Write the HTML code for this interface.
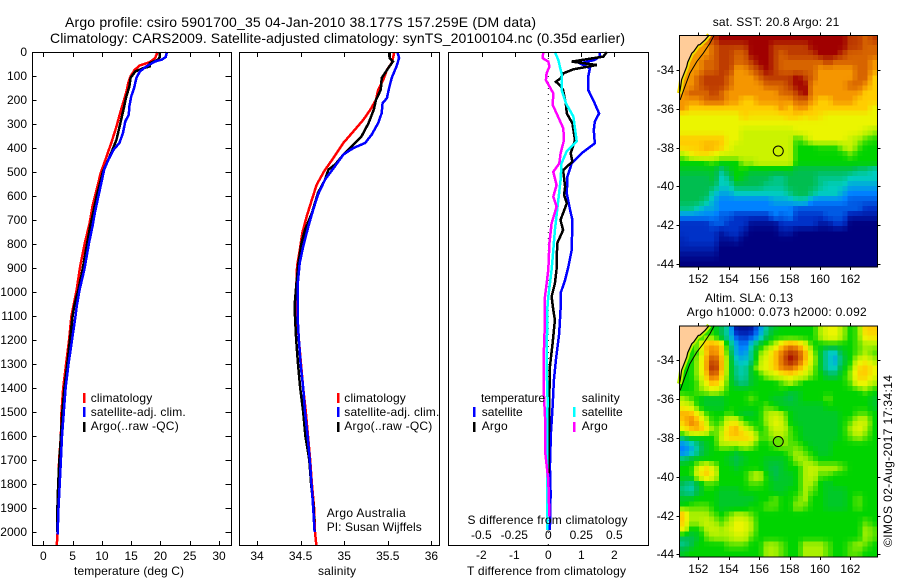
<!DOCTYPE html>
<html lang="en">
<head>
<meta charset="utf-8">
<title>Argo profile csiro 5901700_35</title>
<style>
html,body{margin:0;padding:0;background:#fff;}
svg{display:block;}
text{font-family:"Liberation Sans",sans-serif;font-size:12px;fill:#000;}
.t14{font-size:14px;}
.t13{font-size:13px;}
</style>
</head>
<body>
<svg id="chart" xmlns="http://www.w3.org/2000/svg" width="900" height="580" viewBox="0 0 900 580">
  <rect x="0" y="0" width="900" height="580" fill="#fff"/>
  <g id="maps"></g>
  <g id="profiles"></g>
  <g id="axes"></g>

  <text class="t14" x="65" y="27" textLength="471">Argo profile: csiro 5901700_35 04-Jan-2010 38.177S 157.259E (DM data)</text>
  <text class="t14" x="50" y="43" textLength="575">Climatology: CARS2009. Satellite-adjusted climatology: synTS_20100104.nc (0.35d earlier)</text>

  <text x="74" y="575" textLength="110">temperature (deg C)</text>
  <text x="318" y="575" textLength="38">salinity</text>
  <text x="467" y="575" textLength="159">T difference from climatology</text>
  <text x="467.5" y="524" textLength="160">S difference from climatology</text>

  <g>
    <rect x="83" y="393" width="2.5" height="10" fill="#f00"/>
    <rect x="83" y="407" width="2.5" height="10" fill="#00f"/>
    <rect x="83" y="422" width="2.5" height="10" fill="#000"/>
    <text x="90.7" y="402" textLength="61.5">climatology</text>
    <text x="90.7" y="416" textLength="95">satellite-adj. clim.</text>
    <text x="90.7" y="430" textLength="88">Argo(..raw -QC)</text>
  </g>
  <g>
    <rect x="337" y="393" width="2.5" height="10" fill="#f00"/>
    <rect x="337" y="407" width="2.5" height="10" fill="#00f"/>
    <rect x="337" y="422" width="2.5" height="10" fill="#000"/>
    <text x="344.3" y="402" textLength="61.5">climatology</text>
    <text x="344.3" y="416" textLength="95">satellite-adj. clim.</text>
    <text x="344.3" y="430" textLength="88">Argo(..raw -QC)</text>
  </g>
  <text x="326.7" y="517" textLength="79">Argo Australia</text>
  <text x="326.7" y="531" textLength="95">PI: Susan Wijffels</text>

  <g>
    <text x="481" y="402" textLength="64">temperature</text>
    <rect x="473" y="407" width="2.5" height="10" fill="#00f"/>
    <text x="481.7" y="416" textLength="41">satellite</text>
    <rect x="473" y="422" width="2.5" height="10" fill="#000"/>
    <text x="481.7" y="430" textLength="26">Argo</text>
    <text x="581.7" y="402" textLength="38">salinity</text>
    <rect x="573" y="407" width="2.5" height="10" fill="#0ff"/>
    <text x="581.7" y="416" textLength="41">satellite</text>
    <rect x="573" y="422" width="2.5" height="10" fill="#f0f"/>
    <text x="581.7" y="430" textLength="26">Argo</text>
  </g>

  <text x="712.7" y="26" textLength="126.6">sat. SST: 20.8  Argo: 21</text>
  <text x="705" y="302" textLength="88">Altim. SLA: 0.13</text>
  <text x="686.7" y="316" textLength="180">Argo h1000: 0.073 h2000: 0.092</text>
  <text transform="translate(892,547) rotate(-90)" x="0" y="0" textLength="172">©IMOS 02-Aug-2017 17:34:14</text>
</svg>
<script>
// ---------- depth axis ticks ----------
const depthTicks = [0,100,200,300,400,500,600,700,800,900,1000,1100,1200,1300,1400,1500,1600,1700,1800,1900,2000];
const tempTicks = [0,5,10,15,20,25,30];
const salTicks = [34,34.5,35,35.5,36];
const tDiffTicks = [-2,-1,0,1,2];
const sDiffTicks = [-0.5,-0.25,0,0.25,0.5];
const lonTicks = [152,154,156,158,160,162];
const latTicks = [-34,-36,-38,-40,-42,-44];

// ---------- temperature profiles ----------
const tempClimDepth = [0,25,42,56,74,101,129,164,199,247,310,372,435,504,574,643,713,795,892,990,1100,1200,1300,1400,1500,1600,1700,1800,1900,2000,2054];
const tempClimValues = [19.5,19.1,18.2,16.5,15.6,14.9,14.5,14.2,13.8,13.2,12.5,11.7,10.8,9.8,9.1,8.4,7.9,7.1,6.3,5.7,4.8,4.4,3.9,3.4,3.1,3.0,2.7,2.6,2.5,2.45,2.3];
const tempArgoDepth = [0,21,32,46,60,67,81,108,143,192,240,303,365,414,449,497,546,601,671,726,810,907,990,1050,1100,1200,1300,1400,1500,1600,1700,1800,1900,2000];
const tempArgoValues = [19.9,19.9,19.6,18.2,18.2,17.1,15.7,14.9,14.7,14.1,13.7,13.1,12.5,11.7,11.1,10.2,9.7,9.1,8.5,8.0,7.4,6.7,6.0,5.35,5.0,4.55,4.1,3.6,3.25,3.0,2.75,2.55,2.4,2.4];
const tempSatDepth = [0,21,32,39,60,81,108,150,185,226,261,289,337,379,407,449,490,546,601,671,726,796,907,990,1060,1100,1200,1300,1400,1500,1600,1700,1800,1900,2010];
const tempSatValues = [21.1,20.9,20.2,19.1,17.6,16.5,15.9,15.5,15.0,14.7,14.6,14.0,13.6,13.0,12.0,11.1,10.4,9.9,9.4,8.8,8.4,7.8,7.0,6.2,5.7,5.5,4.9,4.3,3.8,3.5,3.2,3.0,2.8,2.6,2.45];

// ---------- salinity profiles ----------
const salClimDepth = [0,25,46,74,115,157,199,240,282,331,379,442,497,553,615,685,754,838,892,990,1100,1200,1300,1400,1500,1600,1700,1800,1900,2000,2054];
const salClimValues = [35.575,35.56,35.545,35.49,35.45,35.39,35.365,35.30,35.22,35.105,34.99,34.875,34.77,34.685,34.63,34.57,34.52,34.485,34.46,34.45,34.46,34.48,34.505,34.53,34.56,34.585,34.61,34.63,34.655,34.665,34.68];
const salArgoDepth = [0,25,39,67,108,157,199,240,296,351,393,428,469,490,532,587,671,740,796,879,976,1060,1200,1300,1400,1500,1600,1700,1800,1900,2000];
const salArgoValues = [35.52,35.52,35.56,35.505,35.43,35.42,35.365,35.34,35.28,35.20,35.085,34.99,34.895,34.82,34.78,34.70,34.63,34.55,34.51,34.475,34.45,34.43,34.45,34.47,34.495,34.53,34.555,34.6,34.62,34.65,34.66];
const salSatDepth = [0,25,60,108,157,192,213,254,296,344,379,400,428,476,532,594,657,726,810,879,976,1100,1200,1300,1400,1500,1600,1700,1800,1900,2000];
const salSatValues = [35.61,35.63,35.60,35.545,35.51,35.49,35.44,35.43,35.39,35.315,35.24,35.105,34.99,34.895,34.78,34.70,34.645,34.59,34.53,34.49,34.465,34.465,34.48,34.50,34.53,34.55,34.58,34.605,34.625,34.645,34.66];

// ---------- differences from climatology ----------
const tDiffSatDepth = [0,19,33,47,68,103,158,200,256,290,325,381,422,464,519,589,658,700,825,894,950,1006,1075,1172,1283,1367,1478,1589,1728,1839,1992];
const tDiffSatValues = [1.57,1.55,1.41,0.96,1.26,1.21,1.21,1.36,1.54,1.41,1.38,1.41,1.01,0.71,0.58,0.56,0.66,0.73,0.71,0.61,0.51,0.37,0.37,0.33,0.23,0.17,0.13,0.08,0.05,0.07,0.05];
const tDiffArgoDepth = [0,19,40,54,72,89,110,124,138,158,214,256,297,367,422,457,492,561,596,631,700,742,797,908,964,1019,1075,1117,1214,1311,1450,1589,1756];
const tDiffArgoValues = [1.77,1.67,0.71,1.47,0.76,0.45,0.37,0.23,0.35,0.45,0.53,0.56,0.73,0.81,0.68,0.73,0.45,0.51,0.48,0.56,0.37,0.45,0.27,0.25,0.2,0.1,0.15,0.2,0.13,0.05,0.03,0.02,0.01];
const sDiffSatDepth = [0,33,89,158,214,269,373,415,464,533,617,742,825,908,1019,1075,1117,1311,1450,1589,1992];
const sDiffSatValues = [0.05,0.076,0.10,0.10,0.134,0.19,0.215,0.139,0.10,0.093,0.076,0.05,0.038,0.025,0,-0.008,-0.008,-0.013,-0.005,-0.008,-0.008];
const sDiffArgoDepth = [0,26,40,61,89,117,172,221,256,318,367,422,464,499,554,603,644,714,797,908,1019,1075,1117,1242,1408,1519,1672,1783,1936];
const sDiffArgoValues = [-0.038,-0.043,0,0.008,-0.013,-0.018,0.038,0.033,0.063,0.114,0.119,0.093,0.083,0.038,0.063,0.038,0.063,0.025,0.008,0,-0.025,-0.028,-0.025,-0.033,-0.035,-0.025,-0.023,0,0.008];

// ---------- map data (colour level per grid cell, north to south) ----------
const sstGrid = [
[10,10,10,10,11,12,12,12,12,12,12,12,12,12,12,12,12,12,12,12,12,12,11,11,10,11],
[9,9,9,9,10,11,11,11,11,12,12,12,11,11,11,11,11,12,12,12,12,12,11,11,10,10],
[9,9,9,9,10,11,11,10,10,12,12,12,11,10,11,11,11,11,12,12,12,11,10,10,10,10],
[9,9,9,10,10,11,11,10,10,11,12,12,11,10,10,10,10,10,10,11,10,10,10,10,10,9],
[9,9,9,10,10,11,11,9,9,10,11,12,11,10,10,10,10,10,9,9,9,9,9,10,10,9],
[9,9,10,11,11,11,10,9,9,9,10,11,11,11,11,12,11,10,9,9,9,9,9,10,10,8],
[9,9,10,11,11,11,10,9,9,9,9,10,10,10,11,12,12,9,9,9,9,9,10,10,9,8],
[9,10,10,10,11,10,9,9,9,9,9,9,9,10,10,11,12,9,9,9,9,9,9,9,8,8],
[9,9,9,10,10,10,9,9,8,8,9,9,9,9,9,10,10,9,8,8,9,9,9,8,8,8],
[9,8,8,8,8,8,8,8,8,8,8,8,8,9,8,9,9,8,8,8,8,8,8,8,8,7],
[7,7,7,7,7,7,7,7,8,7.5,7.5,7.5,7.5,7.5,8,8,7.5,8,7.5,7,7,7,7,7,7,7],
[7,7,7,7,7,7,7,7,7,7,7,7,7,7,7,7,7,7,7,7,7,7,7,7,7,7],
[7,7,7,7,7,7,7,7,6.5,6.5,6.5,6.5,6.5,6.5,6.5,7,7,7,7,7,7,7,7,7,6.5,6],
[8,8,8,8,8,8,7,7,6.5,6.5,6.5,6.5,6.5,6.5,6.5,5.2,6,7,7,7,7,7,6.5,6,5.5,5.2],
[8,8,8,8.5,8.5,8,7,6.5,6.5,6.5,6.5,6.5,6.5,6.5,6.5,5,5,5,5.2,5.2,5.2,6,6.5,5.5,5,5],
[6,7,7.5,7.5,7,6.5,6.5,6.5,6.5,6.5,6.5,6.5,6.5,6.5,6.5,5,5,5,5,5,5,5,5.5,5,5,5],
[5,5,5,5.2,5.5,5,5,5,6,6,6.5,6.5,6.5,6.5,6.5,5,5,5,5,5,5,5,5,5,5,5],
[4.5,4.5,4.5,4.5,4.5,3.5,4.5,5,5,4.5,4.5,4.5,4.5,4.5,4.5,4,4,4,4,4,4,4,4,3.5,3.5,3],
[4,4,4,4,4.5,3,3.5,5,4.5,4,4,4,3.5,3.5,4,4,4,4,3.5,3.5,3.5,3.5,3,3,3,3],
[4,4,4,4,4,3,3,4,4,4,4,3.5,3.5,3.5,4,4,4,4,3.5,3,3,3,2.5,2.5,2.5,2.5],
[4,4,4,4,3,2.5,2.5,3,3,3,3,3,3,3,3.5,4,4,3.5,3,3,3,2.5,2,2,2,2],
[4,4,4,3.5,2.5,2,2,2,2,2,2,2,2.5,2.5,2.5,3,3,2,2,2,2,2,1.5,1.5,1.5,1.5],
[3.5,3.5,3,2.5,2.5,2,2,2,2,2,2,2,2,2,2,1.5,1.5,1.5,1.5,1.5,1.5,1.5,1.5,1.5,1,1],
[2,2,2,2,2,1.5,1.5,1,1,1,1,1,2,1.5,2,1,1,1,1,1.5,1.5,1.5,0.5,0.5,0.5,0.5],
[1,1,1,1,1.5,1.5,1,1,1,0.3,0.3,0.3,0.3,1,1,1,1,1,0.5,0.5,1,1,0,0,0,0],
[1,1,1,1,1,0.5,1,1,0.5,0,0,0,0,0.5,0.5,0,0,0,0,0,0,0,0,0,0,0],
[0.8,1,1,1,1,0.3,0.3,0.5,0,0,0,0,0,0,0,0,0,0,0,0,0,0,0,0,0,0],
[0.7,0.7,0.7,0.7,0.7,0,0,0,0,0,0,0,0,0,0,0,0,0,0,0,0,0,0,0,0,0],
[0.3,0.3,0.3,0.3,0.3,0,0,0,0,0,0,0,0,0,0,0,0,0,0,0,0,0,0,0,0,0],
[0,0,0,0,0,0,0,0,0,0,0,0,0,0,0,0,0,0,0,0,0,0,0,0,0,0]
];
const slaGrid = [
[5,5,5,5,5,4,3,0.5,0.3,0.5,2,3.5,4.5,5,5,5,5,5,6,7,7,6,5,5.5,8,8],
[5,5,5,5.5,5.5,4,3,1.5,1,1.5,2.5,4,5,5,5,5,5,5,6,7,7,6,5,5.5,7.5,7.5],
[5,5,6,8.5,9,8,4,2.5,1.5,3,4.5,5.5,6,8,9,8.5,7,5,5,5,5,5,5,5.5,6,6],
[5,5,5.5,8,9.5,8,4.5,2.5,2,3.5,5.5,6.5,8,9.5,11,10.5,8.5,6,4.5,3,3,4.5,5,5.5,6,5.5],
[5,5,6,8.5,11,8.5,5,3,2.5,3.5,6,7,8,10,12,11,8.5,6.5,4.5,3,2.5,4,5,6.5,7,6],
[5,5,6,8.5,12,8.5,5,3.5,3,4.5,6.5,7,8,9.5,10,9,7.5,6,4.5,3,3,4.5,5.5,7.5,8,7],
[5,5,6,8,10.5,8,5,3.5,3,4.5,5,6,6.5,7,7.5,7,6.5,5.5,5,4,4,5,6,8,8,7],
[5,5,5.5,7,8.5,7,5,4,3.5,4.5,5,5,5,5.5,6,5.5,5,5,5,5,5,5,5.5,7,7,6],
[5,5,5.5,6,6.5,6,5,5,5,5,5,5,5,5,4.5,4.5,5,5,5,5,5,5,5,5,5.5,5],
[6,5.5,5,4.5,4.5,4.5,5,5,5,5.5,5,5,4.5,4.5,4,4.5,5,5,5,5.5,5,5,5,5,5,4.5],
[7,6.5,5,4.5,4.5,4.5,5,5,5,5,5,5.5,5,4.5,4.5,4.5,4.5,4.5,4.5,5,5,5,5,5,5,4.5],
[8.5,8.5,7,5.5,5,5,5.5,5,4.5,4.5,5,6,6.5,6,5,4.5,4.5,4.5,4.5,4.5,4.5,5,5,5.5,5.5,5],
[8,9.5,8.5,6.5,5,5.5,7,7,5.5,5,5,6,7,6.5,5,4.5,4.5,4.5,4.5,4.5,4.5,5,5.5,6.5,6.5,5],
[7,8,8.5,7.5,5.5,6,8,8.5,7,6,5,5.5,6.5,6.5,5.5,5,4.5,4.5,4.5,4.5,4.5,5,6,7,6,5],
[4,5,5,5,5,6.5,8,8,8,7.5,5.5,5.5,6,6,5.5,5,4.5,4.5,4.5,4.5,4.5,5,5.5,6,5.5,5],
[2,2.5,3.5,4.5,5,6,6,6,6.5,6,5,5,5.5,6,5.5,5.5,5,4.5,4.5,4.5,5,5,5,5,5,5],
[2,2.5,3.5,4.5,5,5,5,4.5,5,5,5,5,5,5,5.5,6,5.5,5,4.5,4.5,5,5,5,5,5,5],
[4,4.5,5,5,5,5,4.5,4,4.5,5,5,4.5,4.5,4.5,5,6,6,5.5,5,5,5,5,5,5,5,5],
[5,5,6.5,7.5,6.5,5,5,4.5,5,5,5,4.5,4,4.5,5,5,6,6.5,6,6,6,5.5,5,5,5,5],
[5,5,7,8,7,5,5,5,5,6,6.5,5,4,4.5,4.5,5,6,6.5,5.5,5.5,5,5,5,5,5,5],
[4,3.5,4.5,5.5,5.5,5,5,5,5,5.5,5.5,5,4.5,4.5,4.5,5,6,6,5,4.5,5,5,5,5,5,5],
[3.5,3,4,5,5,4.5,4.5,4.5,5,5,5,5,4.5,4.5,5,5,6,5.5,5,4.5,4.5,4.5,5,5,5,5],
[4.5,4.5,5,5,5,4.5,4.5,4.5,4.5,4.5,5,5,5.5,5,5,5.5,6,5,5,4.5,4.5,4.5,5,5.5,5,5],
[5,5.5,5.5,5.5,5,4.5,4.5,4.5,4.5,5,5,5.5,5.5,5,5,6,5.5,5,5,4.5,4.5,4.5,5,5.5,5,5],
[8,6,6,6,5.5,5,5.5,6,6,5.5,5,5,5,5,5,5,5,5,5,5,5,5,5,5,5,5],
[8,6,6,6.5,6,5.5,6,7,7,6,5,5,5,5,5,5,5,5,5,5,5,5,5,5,5.5,5],
[7,5,5,6,6.5,6,6.5,7,7,6,5,5,5,5,5,5,5,5,5,5,5,5,5,5,6,5.5],
[4,4,4.5,5.5,6,6,6,6.5,6.5,5.5,5,5,5,5,5,5,5,5,5,5,5,5,5,5,6,5.5],
[3.5,4,5,5,5,5,5.5,5.5,5.5,5,5,6,6,5.5,5,5,6,6,6,5.5,5,5,5.5,6,5.5,5],
[4.5,5,5,5,5,5,5,5,5,5,5,6,6,5.5,5,5,6,6,6,5.5,5,5,5.5,5.5,5,5]
];
const coastLon = [150.75,150.8,150.85,150.9,151.05,151.24,151.3,151.57,151.7,152.0,152.1,152.44,152.72];
const coastLat = [-35.2,-35.03,-34.8,-34.5,-34.2,-33.83,-33.6,-33.14,-33.05,-32.71,-32.7,-32.45,-32.2];
const isobathLon = [153.05,152.77,152.33,151.9,151.45,151.12,150.8];
const isobathLat = [-32.2,-32.62,-33.14,-33.57,-34.17,-34.86,-35.55];
const floatLon = [157.26];
const floatLat = [-38.18];
const floatSla = [5.6];

// ---------- scales ----------
const NS = 'http://www.w3.org/2000/svg';
function yDepth(d){ return 52 + d * 0.24; }
function xTemp(v){ return 43.3 + v * 5.857; }
function xSal(v){ return 257 + (v - 34) * 87.2; }
function xTDiff(v){ return 548.3 + v * 33; }
function xSDiff(v){ return 548.3 + v * 132; }
const LON0 = 150.75, LON1 = 163.78, LAT0 = -32.2, LAT1 = -44.14;
function xLon(v){ return 698.3 + (v - 152) * 15.2; }
function yLat(v, top){ return top + (v - LAT0) * (-19.4); }

const COLOR_STOPS = [[0,0,128],[0,50,200],[0,130,255],[0,205,190],[0,190,80],[0,212,0],[170,240,0],[235,245,0],[255,205,0],[245,150,0],[215,100,0],[190,60,0],[160,0,0]];
function levelColor(v){
  const c = Math.max(0, Math.min(12, v));
  const i = Math.min(11, Math.floor(c));
  const f = c - i;
  const a = COLOR_STOPS[i], b = COLOR_STOPS[i + 1];
  return 'rgb(' + [0,1,2].map(function(k){ return Math.round(a[k] + (b[k] - a[k]) * f); }).join(',') + ')';
}
function svgEl(tag, parent){
  const el = document.createElementNS(NS, tag);
  parent.appendChild(el);
  return el;
}

// ---------- profile lines ----------
const profiles = document.getElementById('profiles');
function drawProfile(depths, values, xScale, color, name){
  const pts = depths.map(function(d, i){ return xScale(values[i]).toFixed(1) + ',' + yDepth(d).toFixed(1); }).join(' ');
  const el = svgEl('polyline', profiles);
  
  
  el.setAttribute('points', pts);
  el.setAttribute('fill', 'none');
  el.setAttribute('stroke', color);
  el.setAttribute('stroke-width', '2.5');
  el.setAttribute('shape-rendering', 'crispEdges');
}
const zeroLine = svgEl('line', profiles);


zeroLine.setAttribute('x1', xTDiff(0));
zeroLine.setAttribute('x2', xTDiff(0));
zeroLine.setAttribute('y1', yDepth(0));
zeroLine.setAttribute('y2', 545);
zeroLine.setAttribute('stroke', '#000');
zeroLine.setAttribute('stroke-width', '1');
zeroLine.setAttribute('stroke-dasharray', '1 5');

drawProfile(tempClimDepth, tempClimValues, xTemp, '#f00', 'temperature-climatology-line');
drawProfile(tempArgoDepth, tempArgoValues, xTemp, '#000', 'temperature-argo-line');
drawProfile(tempSatDepth, tempSatValues, xTemp, '#00f', 'temperature-satellite-line');
drawProfile(salClimDepth, salClimValues, xSal, '#f00', 'salinity-climatology-line');
drawProfile(salArgoDepth, salArgoValues, xSal, '#000', 'salinity-argo-line');
drawProfile(salSatDepth, salSatValues, xSal, '#00f', 'salinity-satellite-line');
drawProfile(tDiffSatDepth, tDiffSatValues, xTDiff, '#00f', 'temperature-satellite-difference-line');
drawProfile(tDiffArgoDepth, tDiffArgoValues, xTDiff, '#000', 'temperature-argo-difference-line');
drawProfile(sDiffSatDepth, sDiffSatValues, xSDiff, '#0ff', 'salinity-satellite-difference-line');
drawProfile(sDiffArgoDepth, sDiffArgoValues, xSDiff, '#f0f', 'salinity-argo-difference-line');

// ---------- axes ----------
const axes = document.getElementById('axes');
function drawLine(x1, y1, x2, y2, name){
  const el = svgEl('line', axes);
  
  
  el.setAttribute('x1', x1);
  el.setAttribute('y1', y1);
  el.setAttribute('x2', x2);
  el.setAttribute('y2', y2);
  el.setAttribute('stroke', '#000');
  el.setAttribute('stroke-width', '1');
  el.setAttribute('shape-rendering', 'crispEdges');
}
function drawLabel(x, y, str, anchor, name){
  const el = svgEl('text', axes);
  
  
  el.setAttribute('x', x);
  el.setAttribute('y', y);
  el.setAttribute('text-anchor', anchor);
  el.textContent = str;
}
function drawFrame(l, t, r, b, name){
  const el = svgEl('rect', axes);
  
  
  el.setAttribute('x', l);
  el.setAttribute('y', t);
  el.setAttribute('width', r - l);
  el.setAttribute('height', b - t);
  el.setAttribute('fill', 'none');
  el.setAttribute('stroke', '#000');
  el.setAttribute('stroke-width', '1');
  el.setAttribute('shape-rendering', 'crispEdges');
}

drawFrame(32.5, 52.5, 231.5, 545.5, 'temperature-panel-frame');
drawFrame(239.5, 52.5, 439.5, 545.5, 'salinity-panel-frame');
drawFrame(448.5, 52.5, 648.5, 545.5, 'difference-panel-frame');

depthTicks.forEach(function(d){
  const y = Math.round(yDepth(d)) + 0.5;
  if (d > 0) {
    drawLine(32.5, y, 36.5, y, 'depth-tick-left');
    drawLine(225.5, y, 231.5, y, 'depth-tick-right');
  }
  drawLabel(27, Math.round(yDepth(d)) + 4, String(d), 'end', 'depth-tick-label');
});
tempTicks.forEach(function(v){
  const x = Math.round(xTemp(v)) + 0.5;
  drawLine(x, 52.5, x, 57, 'temperature-tick-top');
  drawLine(x, 541, x, 545.5, 'temperature-tick-bottom');
  drawLabel(xTemp(v), 560, String(v), 'middle', 'temperature-tick-label');
});
salTicks.forEach(function(v){
  const x = Math.round(xSal(v)) + 0.5;
  drawLine(x, 52.5, x, 57, 'salinity-tick-top');
  drawLine(x, 541, x, 545.5, 'salinity-tick-bottom');
  drawLabel(xSal(v), 560, String(v), 'middle', 'salinity-tick-label');
});
tDiffTicks.forEach(function(v){
  const x = Math.round(xTDiff(v)) + 0.5;
  drawLine(x, 52.5, x, 57, 't-difference-tick-top');
  drawLabel(xTDiff(v) - (v < 0 ? 1 : 0), 559, String(v), 'middle', 't-difference-tick-label');
});
sDiffTicks.forEach(function(v){
  drawLabel(xSDiff(v) - (v < 0 ? 1 : 0), 539, String(v), 'middle', 's-difference-tick-label');
});

// ---------- maps ----------
const maps = document.getElementById('maps');
const DISPLAY_COLS = 40;
const DISPLAY_ROWS = 46;
// Reads the value grid at a fractional position, the way an image is resampled for display.
function sampleGrid(grid, rowPos, colPos){
  const r = Math.max(0, Math.min(grid.length - 1, rowPos));
  const c = Math.max(0, Math.min(grid[0].length - 1, colPos));
  const r0 = Math.floor(r), c0 = Math.floor(c);
  const r1 = Math.min(grid.length - 1, r0 + 1), c1 = Math.min(grid[0].length - 1, c0 + 1);
  const fr = r - r0, fc = c - c0;
  const upper = grid[r0][c0] * (1 - fc) + grid[r0][c1] * fc;
  const lower = grid[r1][c0] * (1 - fc) + grid[r1][c1] * fc;
  return upper * (1 - fr) + lower * fr;
}
function drawMap(grid, top, bottom, name){
  const rows = grid.length;
  const cols = grid[0].length;
  const dx = (xLon(LON1) - xLon(LON0)) / DISPLAY_COLS;
  const dy = (bottom - top) / DISPLAY_ROWS;
  const g = svgEl('g', maps);
  
  
  for (let r = 0; r < DISPLAY_ROWS; r++) {
    for (let c = 0; c < DISPLAY_COLS; c++) {
      const v = sampleGrid(grid, (r + 0.5) / DISPLAY_ROWS * rows - 0.5, (c + 0.5) / DISPLAY_COLS * cols - 0.5);
      const cell = svgEl('rect', g);
      
      
      cell.setAttribute('x', (xLon(LON0) + c * dx).toFixed(2));
      cell.setAttribute('y', (top + r * dy).toFixed(2));
      cell.setAttribute('width', (dx + 0.6).toFixed(2));
      cell.setAttribute('height', (dy + 0.6).toFixed(2));
      cell.setAttribute('fill', levelColor(v));
      cell.setAttribute('shape-rendering', 'crispEdges');
    }
  }
}
function coastPoints(top){
  return coastLon.map(function(v, i){ return xLon(v).toFixed(1) + ',' + yLat(coastLat[i], top).toFixed(1); }).join(' ');
}
function drawCoast(top, shelf, name){
  if (shelf) {
    const band = svgEl('polyline', maps);
    
    
    band.setAttribute('points', coastPoints(top));
    band.setAttribute('fill', 'none');
    band.setAttribute('stroke', shelf);
    band.setAttribute('stroke-width', '5');
  }
  const land = svgEl('polygon', maps);
  
  
  land.setAttribute('points', xLon(LON0).toFixed(1) + ',' + top + ' ' + xLon(coastLon[coastLon.length - 1]).toFixed(1) + ',' + top + ' ' + coastLon.slice().reverse().map(function(v, i){ return xLon(v).toFixed(1) + ',' + yLat(coastLat[coastLat.length - 1 - i], top).toFixed(1); }).join(' '));
  land.setAttribute('fill', '#ffcc99');
  const coast = svgEl('polyline', maps);
  
  
  coast.setAttribute('points', coastPoints(top));
  coast.setAttribute('fill', 'none');
  coast.setAttribute('stroke', '#000');
  coast.setAttribute('stroke-width', '1.2');
  const iso = svgEl('polyline', maps);
  
  
  iso.setAttribute('points', isobathLon.map(function(v, i){ return xLon(v).toFixed(1) + ',' + yLat(isobathLat[i], top).toFixed(1); }).join(' '));
  iso.setAttribute('fill', 'none');
  iso.setAttribute('stroke', '#000');
  iso.setAttribute('stroke-width', '1');
}
function drawMapAxes(top, bottom, labelY, name){
  drawFrame(679.5, top + 0.5, 877.5, bottom + 0.5, name + '-frame');
  lonTicks.forEach(function(v){
    const x = Math.round(xLon(v)) + 0.5;
    drawLine(x, top - 2.5, x, top + 0.5, name + '-lon-tick-top');
    drawLine(x, bottom + 0.5, x, bottom + 3.5, name + '-lon-tick-bottom');
    drawLabel(xLon(v), labelY, String(v), 'middle', name + '-lon-label');
  });
  latTicks.forEach(function(v){
    const y = Math.round(yLat(v, top)) + 0.5;
    drawLine(676.5, y, 679.5, y, name + '-lat-tick-left');
    drawLine(877.5, y, 880.5, y, name + '-lat-tick-right');
    drawLabel(674, Math.round(yLat(v, top)) + 4, String(v), 'end', name + '-lat-label');
  });
}
function drawFloat(top, fill, name){
  floatLon.forEach(function(lon, i){
    const c = svgEl('circle', axes);
    
    
    c.setAttribute('cx', xLon(lon));
    c.setAttribute('cy', yLat(floatLat[i], top));
    c.setAttribute('r', '5');
    c.setAttribute('fill', fill === null ? 'none' : levelColor(floatSla[i]));
    c.setAttribute('stroke', '#000');
    c.setAttribute('stroke-width', '1');
  });
}
const SST_TOP = 35, SST_BOTTOM = 266.5, SLA_TOP = 325.5, SLA_BOTTOM = 556.5;
drawMap(sstGrid, SST_TOP, SST_BOTTOM, 'sst-heatmap');
drawCoast(SST_TOP, '#f0dc00', 'sst-map');
drawMap(slaGrid, SLA_TOP, SLA_BOTTOM, 'sla-heatmap');
drawCoast(SLA_TOP, '#b8f000', 'sla-map');
drawMapAxes(SST_TOP, SST_BOTTOM, 283, 'sst-map');
drawMapAxes(SLA_TOP, SLA_BOTTOM, 573, 'sla-map');
drawFloat(SST_TOP, null, 'sst-map-float-marker');
drawFloat(SLA_TOP, true, 'sla-map-float-marker');
</script>
</body>
</html>
